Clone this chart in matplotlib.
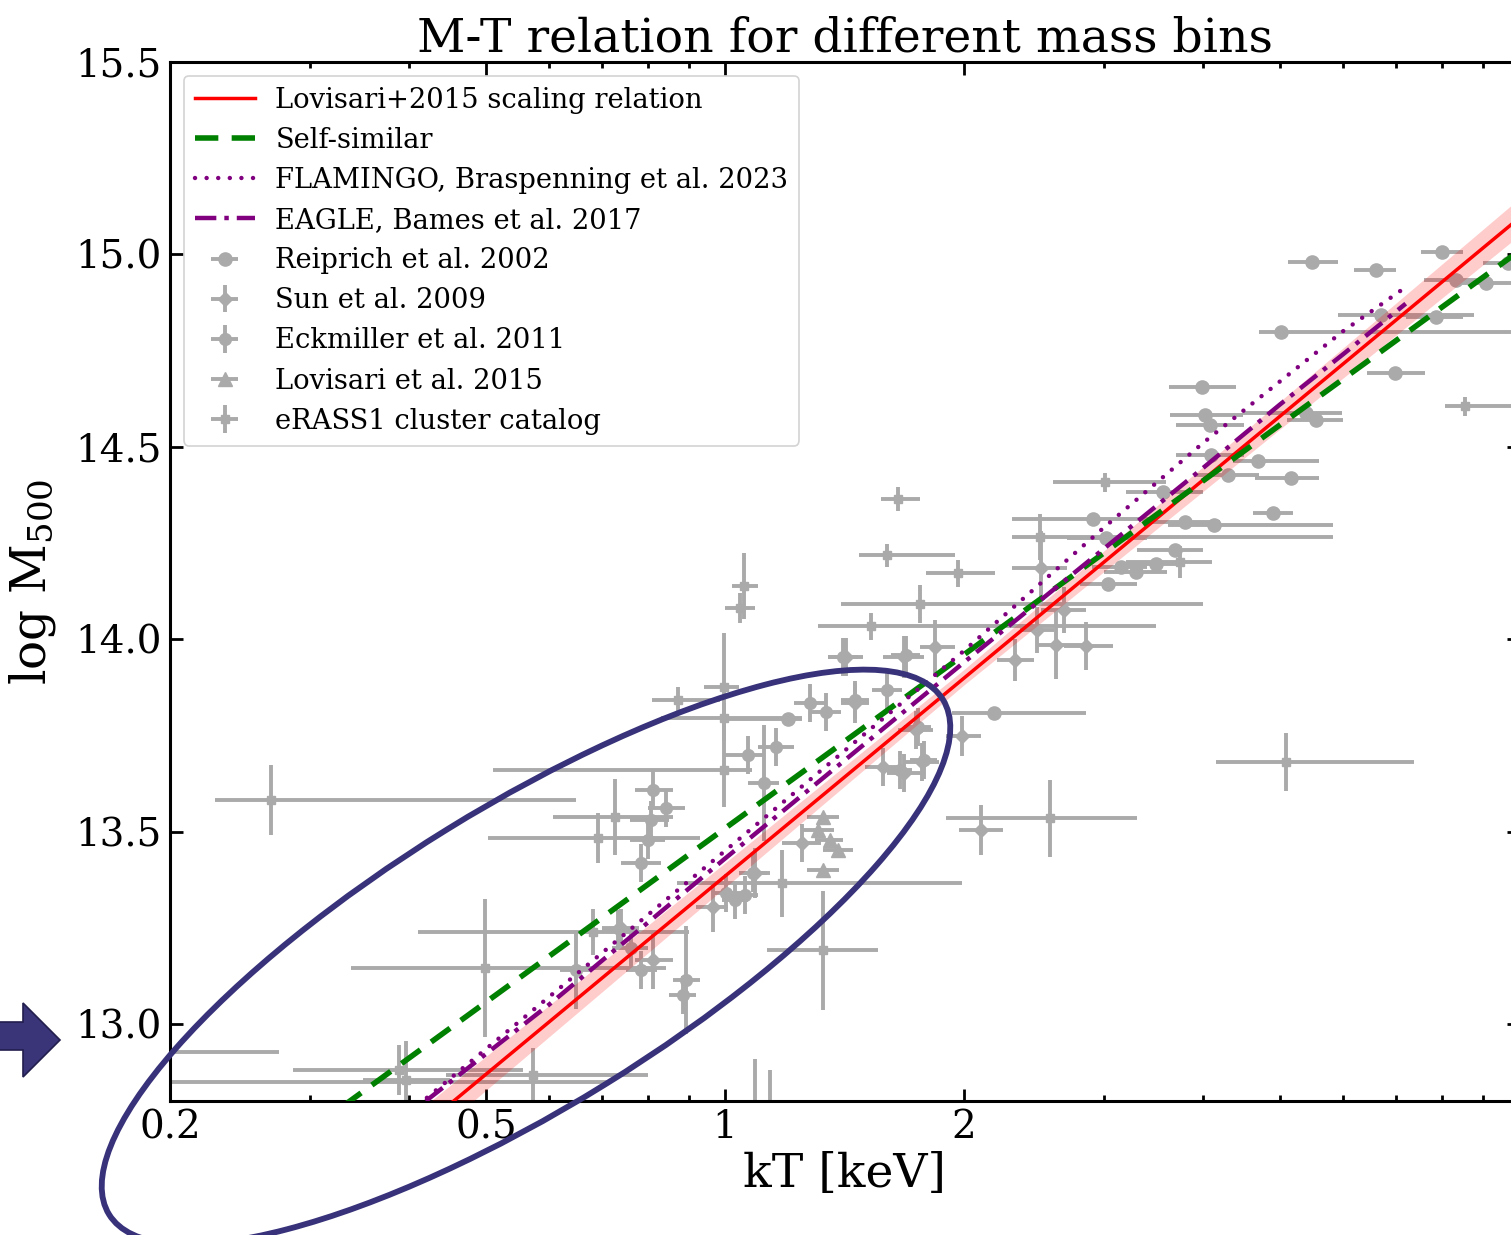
import numpy as np
import matplotlib
matplotlib.use("Agg")
import matplotlib.pyplot as plt
from matplotlib.patches import Ellipse, Polygon
from matplotlib.ticker import FixedLocator, FixedFormatter, NullFormatter

plt.rcParams['font.family'] = ['DejaVu Serif']
plt.rcParams['mathtext.fontset'] = 'dejavuserif'

# ---------------- model relations ----------------
lov_norm = 13.899      # log M500 at pivot
lov_slope = 1.71
lov_pivot = 2.0        # keV
lov_norm_err = 0.02
lov_slope_err = 0.04
ss_norm = 13.96
ss_slope = 1.5

flamingo_kT = [0.40, 0.6, 1.0, 2.0, 3.0, 4.0, 5.0, 6.0, 7.2]
flamingo_logM = [12.77, 13.07, 13.45, 13.97, 14.29, 14.51, 14.67, 14.80, 14.915]
eagle_kT = [0.42, 0.6, 1.0, 2.0, 3.0, 4.0, 5.0, 6.0, 7.2]
eagle_logM = [12.80, 13.05, 13.43, 13.94, 14.235, 14.445, 14.61, 14.74, 14.872]

# ---------------- Reiprich et al. 2002 (x errors only) ----------------
rei_kT = [5.49, 6.61, 8.00, 9.69, 5.02, 3.99, 4.02, 4.08, 6.98, 6.70, 8.33, 9.09, 7.86,
          5.39, 5.55, 4.69, 5.16, 4.30, 4.09, 3.56, 4.90, 4.13, 3.80, 2.91, 3.69, 3.49,
          3.29, 3.15, 3.04, 3.02, 2.18, 1.20]
rei_logM = [14.98, 14.96, 15.005, 14.977, 14.798, 14.655, 14.582, 14.556, 14.691, 14.842,
            14.933, 14.925, 14.837, 14.587, 14.569, 14.463, 14.418, 14.426, 14.478, 14.382,
            14.327, 14.296, 14.304, 14.312, 14.231, 14.195, 14.174, 14.187, 14.143, 14.263,
            13.808, 13.792]
rei_kT_lo = [5.12, 6.20, 7.53, 9.0, 4.71, 3.62, 3.63, 3.70, 6.43, 5.92, 7.6, 8.4, 7.2,
             4.49, 5.1, 4.36, 4.65, 3.9, 3.7, 3.2, 4.63, 3.61, 3.4, 2.30, 3.3, 3.2,
             3.0, 2.9, 2.8, 2.7, 1.93, 1.0]
rei_kT_hi = [5.92, 7.00, 8.50, 10.5, 11.0, 4.40, 4.49, 4.50, 7.61, 8.77, 9.0, 10.0, 8.5,
             5.98, 6.0, 5.60, 5.6, 4.7, 4.5, 4.0, 5.19, 5.83, 4.2, 3.46, 4.0, 3.8,
             3.6, 3.4, 3.3, 3.4, 2.85, 1.25]

# ---------------- Sun et al. 2009 ----------------
sun_kT = [2.61, 2.85, 2.32, 2.10, 1.68, 1.84, 1.46, 1.58, 1.68, 1.77, 1.74, 1.42, 1.99,
          2.50, 2.67, 2.47, 1.25, 0.966, 0.74, 0.733, 0.812, 1.09]
sun_logM = [13.985, 13.982, 13.946, 13.504, 13.954, 13.979, 13.834, 13.668, 13.652, 13.681,
            13.764, 13.954, 13.748, 14.185, 14.076, 14.024, 13.470, 13.304, 13.250, 13.247,
            13.166, 13.392]
sun_kT_lo = [2.47, 2.67, 2.20, 1.97, 1.58, 1.76, 1.40, 1.50, 1.60, 1.68, 1.65, 1.35, 1.90,
             2.30, 2.50, 2.35, 1.18, 0.92, 0.70, 0.70, 0.77, 1.04]
sun_kT_hi = [2.85, 3.08, 2.45, 2.24, 1.78, 1.95, 1.52, 1.67, 1.77, 1.86, 1.83, 1.49, 2.10,
             2.70, 2.85, 2.60, 1.32, 1.01, 0.78, 0.77, 0.86, 1.14]
sun_logM_err = [0.088, 0.062, 0.055, 0.065, 0.055, 0.07, 0.052, 0.05, 0.05, 0.05, 0.05, 0.05,
                0.052, 0.097, 0.06, 0.06, 0.05, 0.065, 0.05, 0.05, 0.075, 0.065]

# ---------------- Eckmiller et al. 2011 ----------------
eck_kT = [0.812, 0.807, 0.843, 0.80, 0.784, 1.07, 1.16, 1.28, 1.34, 1.41, 1.46, 1.69, 1.60,
          1.75, 1.66, 1.78, 1.12, 1.085, 1.06, 1.03, 1.003, 0.761, 0.784, 0.893, 0.885, 0.649]
eck_logM = [13.608, 13.530, 13.561, 13.478, 13.418, 13.699, 13.720, 13.834, 13.811, 13.954,
            13.842, 13.959, 13.868, 13.772, 13.660, 13.686, 13.626, 13.392, 13.335, 13.322,
            13.340, 13.197, 13.140, 13.114, 13.076, 13.140]
eck_kT_lo = [0.77, 0.76, 0.80, 0.76, 0.74, 1.00, 1.10, 1.22, 1.28, 1.35, 1.40, 1.62, 1.53,
             1.68, 1.60, 1.71, 1.07, 1.04, 1.02, 0.99, 0.96, 0.72, 0.75, 0.86, 0.85, 0.62]
eck_kT_hi = [0.86, 0.85, 0.89, 0.84, 0.83, 1.12, 1.22, 1.34, 1.40, 1.47, 1.52, 1.76, 1.67,
             1.82, 1.72, 1.85, 1.17, 1.13, 1.10, 1.07, 1.05, 0.80, 0.82, 0.93, 0.92, 0.68]
eck_logM_err = [0.05, 0.05, 0.05, 0.05, 0.05, 0.05, 0.05, 0.05, 0.05, 0.05, 0.05, 0.05, 0.05,
                0.05, 0.05, 0.05, 0.15, 0.05, 0.05, 0.05, 0.05, 0.05, 0.05, 0.14, 0.05, 0.10]

# ---------------- Lovisari et al. 2015 ----------------
lov_kT = [1.33, 1.356, 1.388, 1.329, 1.31]
lov_logM = [13.538, 13.478, 13.452, 13.400, 13.504]
lov_kT_lo = [1.27, 1.30, 1.33, 1.27, 1.25]
lov_kT_hi = [1.39, 1.41, 1.45, 1.39, 1.37]

# ---------------- eRASS1 cluster catalog ----------------
era_kT = [0.997, 0.997, 0.873, 0.997, 0.727, 0.692, 0.499, 0.268, 0.388, 0.397, 0.573, 1.33,
          5.09, 1.652, 1.60, 1.966, 1.76, 1.527, 1.056, 1.045, 3.01, 8.55, 3.74, 2.57,
          0.18, 0.17, 1.09, 1.14, 2.49, 1.18, 0.682]
era_logM = [13.876, 13.660, 13.842, 13.795, 13.538, 13.483, 13.146, 13.582, 12.881, 12.855,
            12.868, 13.192, 13.681, 14.364, 14.218, 14.171, 14.091, 14.034, 14.138, 14.081,
            14.408, 14.605, 14.20, 13.535, 12.927, 12.85, 12.70, 12.70, 14.265, 13.366, 13.239]
era_kT_lo = [0.94, 0.51, 0.81, 0.83, 0.607, 0.503, 0.338, 0.228, 0.286, 0.35, 0.445, 1.13,
             4.15, 1.57, 1.475, 1.79, 1.40, 1.31, 1.02, 1.00, 2.59, 8.06, 3.2, 1.9,
             0.15, 0.14, 1.05, 1.10, 2.3, 0.87, 0.41]
era_kT_hi = [1.04, 1.08, 0.986, 1.25, 0.86, 0.93, 0.843, 0.649, 0.557, 0.45, 0.80, 1.56,
             7.38, 1.76, 1.95, 2.19, 4.0, 3.49, 1.10, 1.09, 3.59, 9.9, 4.1, 3.3,
             0.274, 0.717, 1.13, 1.18, 5.83, 1.99, 0.90]
era_logM_err = [0.14, 0.095, 0.035, 0.04, 0.10, 0.065, 0.18, 0.09, 0.065, 0.10, 0.07, 0.155,
                0.075, 0.032, 0.03, 0.034, 0.05, 0.035, 0.085, 0.04, 0.025, 0.025, 0.042, 0.10,
                0.05, 0.05, 0.21, 0.18, 0.06, 0.087, 0.06]

x_ticks = [0.2, 0.5, 1, 2]
x_ticklabels = ['0.2', '0.5', '1', '2']
y_ticks = [13.0, 13.5, 14.0, 14.5, 15.0, 15.5]

GREY = '#aaaaaa'
W, H = 1511, 1235
fig = plt.figure(figsize=(W / 100, H / 100), dpi=100)
ax = fig.add_axes([170 / W, (H - 1101) / H, (1519 - 170) / W, (1101 - 62) / H])


def xerr_of(kT, lo, hi):
    kT = np.asarray(kT); return np.vstack([kT - np.asarray(lo), np.asarray(hi) - kT])


# lines
T = np.logspace(np.log10(0.15), np.log10(12), 300)
lt = np.log10(T / lov_pivot)
lov_line = lov_norm + lov_slope * lt
band = lov_norm_err + lov_slope_err * np.abs(lt)
ax.fill_between(T, lov_line - band, lov_line + band, color='red', alpha=0.2, lw=0, zorder=3)
ax.plot(T, lov_line, color='red', lw=2.5, zorder=4, label='Lovisari+2015 scaling relation')
ax.plot(T, ss_norm + ss_slope * lt, color='green', lw=4, ls=(0, (4.2, 2.4)), zorder=4,
        label='Self-similar')
ax.plot(flamingo_kT, flamingo_logM, color='purple', lw=3.2, ls=(0, (0.01, 2.6)), zorder=4,
        dash_capstyle='round', label='FLAMINGO, Braspenning et al. 2023')
ax.plot(eagle_kT, eagle_logM, color='purple', lw=3.2, ls=(0, (4.8, 1.8, 1, 1.8)), zorder=4,
        label='EAGLE, Bames et al. 2017')

ekw = dict(color=GREY, ecolor=GREY, elinewidth=2.8, capsize=0, zorder=2)
ax.errorbar(rei_kT, rei_logM, xerr=xerr_of(rei_kT, rei_kT_lo, rei_kT_hi), fmt='o', ms=9.5,
            label='Reiprich et al. 2002', **ekw)
ax.errorbar(sun_kT, sun_logM, xerr=xerr_of(sun_kT, sun_kT_lo, sun_kT_hi), yerr=sun_logM_err,
            fmt='D', ms=7.5, label='Sun et al. 2009', **ekw)
ax.errorbar(eck_kT, eck_logM, xerr=xerr_of(eck_kT, eck_kT_lo, eck_kT_hi), yerr=eck_logM_err,
            fmt='o', ms=8.5, label='Eckmiller et al. 2011', **ekw)
ax.errorbar(lov_kT, lov_logM, xerr=xerr_of(lov_kT, lov_kT_lo, lov_kT_hi), fmt='^', ms=10,
            label='Lovisari et al. 2015', **ekw)
ax.errorbar(era_kT, era_logM, xerr=xerr_of(era_kT, era_kT_lo, era_kT_hi), yerr=era_logM_err,
            fmt='s', ms=6, label='eRASS1 cluster catalog', **ekw)

ax.set_xscale('log')
ax.set_xlim(0.2, 10)
ax.set_ylim(12.8, 15.5)
ax.xaxis.set_major_locator(FixedLocator(x_ticks))
ax.xaxis.set_major_formatter(FixedFormatter(x_ticklabels))
ax.xaxis.set_minor_locator(FixedLocator([0.3, 0.4, 0.6, 0.7, 0.8, 0.9, 3, 4, 5, 6, 7, 8, 9]))
ax.xaxis.set_minor_formatter(NullFormatter())
ax.yaxis.set_major_locator(FixedLocator(y_ticks))
ax.set_yticklabels(['%.1f' % v for v in y_ticks])
ax.tick_params(which='both', direction='in', top=True, right=True, labelsize=28, width=2)
ax.tick_params(which='major', length=9, pad=6)
ax.tick_params(which='minor', length=4.5)
for s in ax.spines.values():
    s.set_linewidth(2.2)

ax.set_title('M-T relation for different mass bins', fontsize=34, pad=4)
ax.set_xlabel('kT [keV]', fontsize=34, labelpad=4)
ax.set_ylabel(r'log M$_{500}$', fontsize=35, labelpad=12)

leg = ax.legend(loc='upper left', fontsize=19.7, handlelength=2.2, handletextpad=0.75,
                borderaxespad=0.5, framealpha=0.85, labelspacing=0.48)
leg.get_frame().set_linewidth(1.2)

# annotation overlay (pixel coordinates)
ov = fig.add_axes([0, 0, 1, 1], zorder=20)
ov.set_xlim(0, W)
ov.set_ylim(H, 0)
ov.axis('off')
ov.patch.set_alpha(0)
NAVY = '#37327a'
ov.add_patch(Ellipse((526, 957), 980, 300, angle=-31.7, fill=False, ec=NAVY, lw=4.2))
ov.add_patch(Polygon([(-5, 1022), (23, 1022), (23, 1003), (60, 1040), (23, 1077), (23, 1050),
                      (-5, 1050)], closed=True, fc='#3a3478', ec='#221e4d', lw=1.2))

fig.savefig('out.png', dpi=100)
